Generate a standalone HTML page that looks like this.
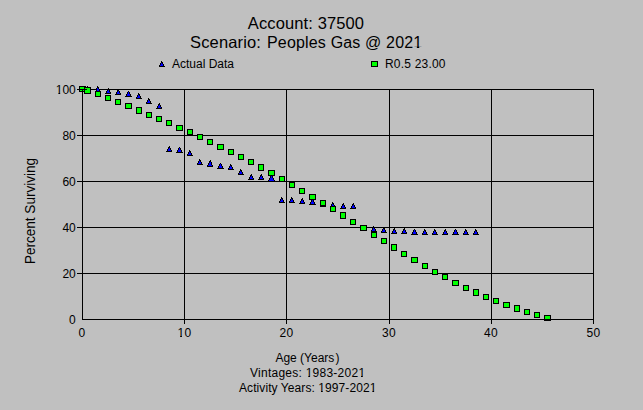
<!DOCTYPE html>
<html><head><meta charset="utf-8"><style>
html,body{margin:0;padding:0;background:#c0c0c0;}
body{width:643px;height:410px;overflow:hidden;position:relative;font-family:"Liberation Sans",Arial,sans-serif;color:#000;}
svg{position:absolute;left:0;top:0;}
.t{position:absolute;white-space:nowrap;line-height:1;}
.c{position:absolute;white-space:nowrap;line-height:1;transform:translateX(-50%);}
.r{position:absolute;white-space:nowrap;line-height:1;transform:translateX(-100%);}
.n{letter-spacing:0.33px;}
.one{display:inline-block;clip-path:polygon(0 0,100% 0,100% 0.75em,0.37em 0.75em,0.37em 100%,0.22em 100%,0.22em 0.75em,0 0.75em);}
</style></head><body>
<svg width="643" height="410" viewBox="0 0 643 410" shape-rendering="crispEdges"><path fill="#000" d="M184 89h1v235h-1z M286 89h1v235h-1z M389 89h1v235h-1z M491 89h1v235h-1z M77 135h516v1h-516z M77 181h516v1h-516z M77 227h516v1h-516z M77 273h516v1h-516z M82 89h512v1h-512z M593 89h1v235h-1z"/><path fill="#000" d="M87 86h1v1h-1zM87 87h1v1h-1zM88 87h1v1h-1zM86 88h1v1h-1zM88 88h1v1h-1zM86 89h1v1h-1zM89 89h1v1h-1zM86 90h1v1h-1zM89 90h1v1h-1zM85 91h1v1h-1zM90 91h1v1h-1zM85 92h6v1h-6zM97 86h1v1h-1zM97 87h1v1h-1zM98 87h1v1h-1zM96 88h1v1h-1zM98 88h1v1h-1zM96 89h1v1h-1zM99 89h1v1h-1zM96 90h1v1h-1zM99 90h1v1h-1zM95 91h1v1h-1zM100 91h1v1h-1zM95 92h6v1h-6zM108 88h1v1h-1zM107 89h1v1h-1zM108 89h1v1h-1zM107 90h1v1h-1zM109 90h1v1h-1zM106 91h1v1h-1zM109 91h1v1h-1zM106 92h1v1h-1zM110 92h1v1h-1zM105 93h6v1h-6zM118 89h1v1h-1zM117 90h1v1h-1zM118 90h1v1h-1zM117 91h1v1h-1zM119 91h1v1h-1zM116 92h1v1h-1zM119 92h1v1h-1zM116 93h1v1h-1zM120 93h1v1h-1zM115 94h6v1h-6zM128 91h1v1h-1zM127 92h1v1h-1zM129 92h1v1h-1zM127 93h1v1h-1zM129 93h1v1h-1zM126 94h1v1h-1zM130 94h1v1h-1zM126 95h1v1h-1zM130 95h1v1h-1zM125 96h7v1h-7zM138 93h1v1h-1zM138 94h1v1h-1zM139 94h1v1h-1zM137 95h1v1h-1zM139 95h1v1h-1zM137 96h1v1h-1zM140 96h1v1h-1zM136 97h1v1h-1zM140 97h1v1h-1zM136 98h6v1h-6zM148 98h1v1h-1zM148 99h1v1h-1zM149 99h1v1h-1zM147 100h1v1h-1zM149 100h1v1h-1zM147 101h1v1h-1zM150 101h1v1h-1zM146 102h1v1h-1zM150 102h1v1h-1zM146 103h6v1h-6zM159 103h1v1h-1zM158 104h1v1h-1zM159 104h1v1h-1zM158 105h1v1h-1zM160 105h1v1h-1zM157 106h1v1h-1zM160 106h1v1h-1zM157 107h1v1h-1zM161 107h1v1h-1zM156 108h6v1h-6zM169 146h1v1h-1zM168 147h1v1h-1zM169 147h1v1h-1zM168 148h1v1h-1zM170 148h1v1h-1zM167 149h1v1h-1zM170 149h1v1h-1zM167 150h1v1h-1zM171 150h1v1h-1zM166 151h6v1h-6zM179 147h1v1h-1zM178 148h1v1h-1zM180 148h1v1h-1zM178 149h1v1h-1zM180 149h1v1h-1zM177 150h1v1h-1zM181 150h1v1h-1zM177 151h1v1h-1zM181 151h1v1h-1zM176 152h7v1h-7zM189 150h1v1h-1zM189 151h1v1h-1zM190 151h1v1h-1zM188 152h1v1h-1zM190 152h1v1h-1zM188 153h1v1h-1zM191 153h1v1h-1zM187 154h1v1h-1zM191 154h1v1h-1zM187 155h6v1h-6zM199 159h1v1h-1zM199 160h1v1h-1zM200 160h1v1h-1zM198 161h1v1h-1zM200 161h1v1h-1zM198 162h1v1h-1zM201 162h1v1h-1zM197 163h1v1h-1zM201 163h1v1h-1zM197 164h6v1h-6zM210 160h1v1h-1zM209 161h1v1h-1zM210 161h1v1h-1zM209 162h1v1h-1zM211 162h1v1h-1zM208 163h1v1h-1zM211 163h1v1h-1zM208 164h1v1h-1zM211 164h1v1h-1zM207 165h1v1h-1zM212 165h1v1h-1zM207 166h6v1h-6zM220 163h1v1h-1zM219 164h1v1h-1zM221 164h1v1h-1zM219 165h1v1h-1zM221 165h1v1h-1zM218 166h1v1h-1zM222 166h1v1h-1zM218 167h1v1h-1zM222 167h1v1h-1zM217 168h7v1h-7zM230 164h1v1h-1zM230 165h1v1h-1zM231 165h1v1h-1zM229 166h1v1h-1zM231 166h1v1h-1zM229 167h1v1h-1zM232 167h1v1h-1zM228 168h1v1h-1zM232 168h1v1h-1zM228 169h6v1h-6zM240 169h1v1h-1zM240 170h1v1h-1zM241 170h1v1h-1zM239 171h1v1h-1zM241 171h1v1h-1zM239 172h1v1h-1zM242 172h1v1h-1zM238 173h1v1h-1zM242 173h1v1h-1zM238 174h6v1h-6zM251 174h1v1h-1zM250 175h1v1h-1zM251 175h1v1h-1zM250 176h1v1h-1zM252 176h1v1h-1zM249 177h1v1h-1zM252 177h1v1h-1zM249 178h1v1h-1zM253 178h1v1h-1zM248 179h6v1h-6zM261 174h1v1h-1zM260 175h1v1h-1zM261 175h1v1h-1zM260 176h1v1h-1zM262 176h1v1h-1zM259 177h1v1h-1zM262 177h1v1h-1zM259 178h1v1h-1zM263 178h1v1h-1zM258 179h6v1h-6zM271 175h1v1h-1zM270 176h1v1h-1zM272 176h1v1h-1zM270 177h1v1h-1zM272 177h1v1h-1zM269 178h1v1h-1zM273 178h1v1h-1zM269 179h1v1h-1zM273 179h1v1h-1zM268 180h1v1h-1zM274 180h1v1h-1zM268 181h7v1h-7zM281 197h1v1h-1zM281 198h1v1h-1zM282 198h1v1h-1zM280 199h1v1h-1zM282 199h1v1h-1zM280 200h1v1h-1zM283 200h1v1h-1zM279 201h1v1h-1zM283 201h1v1h-1zM279 202h6v1h-6zM291 197h1v1h-1zM291 198h1v1h-1zM292 198h1v1h-1zM290 199h1v1h-1zM292 199h1v1h-1zM290 200h1v1h-1zM293 200h1v1h-1zM289 201h1v1h-1zM293 201h1v1h-1zM289 202h6v1h-6zM302 198h1v1h-1zM301 199h1v1h-1zM302 199h1v1h-1zM301 200h1v1h-1zM303 200h1v1h-1zM300 201h1v1h-1zM303 201h1v1h-1zM300 202h1v1h-1zM304 202h1v1h-1zM299 203h6v1h-6zM312 199h1v1h-1zM311 200h1v1h-1zM313 200h1v1h-1zM311 201h1v1h-1zM313 201h1v1h-1zM310 202h1v1h-1zM314 202h1v1h-1zM310 203h1v1h-1zM314 203h1v1h-1zM309 204h7v1h-7zM322 201h1v1h-1zM322 202h1v1h-1zM323 202h1v1h-1zM321 203h1v1h-1zM323 203h1v1h-1zM321 204h1v1h-1zM324 204h1v1h-1zM320 205h1v1h-1zM324 205h1v1h-1zM320 206h6v1h-6zM332 202h1v1h-1zM332 203h1v1h-1zM333 203h1v1h-1zM331 204h1v1h-1zM333 204h1v1h-1zM331 205h1v1h-1zM334 205h1v1h-1zM330 206h1v1h-1zM334 206h1v1h-1zM330 207h6v1h-6zM343 203h1v1h-1zM342 204h1v1h-1zM343 204h1v1h-1zM342 205h1v1h-1zM344 205h1v1h-1zM341 206h1v1h-1zM344 206h1v1h-1zM341 207h1v1h-1zM345 207h1v1h-1zM340 208h6v1h-6zM353 203h1v1h-1zM352 204h1v1h-1zM353 204h1v1h-1zM352 205h1v1h-1zM354 205h1v1h-1zM351 206h1v1h-1zM354 206h1v1h-1zM351 207h1v1h-1zM355 207h1v1h-1zM350 208h6v1h-6zM363 225h1v1h-1zM362 226h1v1h-1zM364 226h1v1h-1zM362 227h1v1h-1zM364 227h1v1h-1zM361 228h1v1h-1zM365 228h1v1h-1zM361 229h1v1h-1zM365 229h1v1h-1zM360 230h7v1h-7zM373 226h1v1h-1zM373 227h1v1h-1zM374 227h1v1h-1zM372 228h1v1h-1zM374 228h1v1h-1zM372 229h1v1h-1zM375 229h1v1h-1zM371 230h1v1h-1zM375 230h1v1h-1zM371 231h6v1h-6zM383 227h1v1h-1zM383 228h1v1h-1zM384 228h1v1h-1zM382 229h1v1h-1zM384 229h1v1h-1zM382 230h1v1h-1zM385 230h1v1h-1zM381 231h1v1h-1zM385 231h1v1h-1zM381 232h6v1h-6zM394 228h1v1h-1zM393 229h1v1h-1zM394 229h1v1h-1zM393 230h1v1h-1zM395 230h1v1h-1zM392 231h1v1h-1zM395 231h1v1h-1zM392 232h1v1h-1zM396 232h1v1h-1zM391 233h6v1h-6zM404 228h1v1h-1zM403 229h1v1h-1zM404 229h1v1h-1zM403 230h1v1h-1zM405 230h1v1h-1zM402 231h1v1h-1zM405 231h1v1h-1zM402 232h1v1h-1zM406 232h1v1h-1zM401 233h6v1h-6zM414 229h1v1h-1zM413 230h1v1h-1zM415 230h1v1h-1zM413 231h1v1h-1zM415 231h1v1h-1zM412 232h1v1h-1zM416 232h1v1h-1zM412 233h1v1h-1zM416 233h1v1h-1zM411 234h7v1h-7zM424 229h1v1h-1zM424 230h1v1h-1zM425 230h1v1h-1zM423 231h1v1h-1zM425 231h1v1h-1zM423 232h1v1h-1zM426 232h1v1h-1zM422 233h1v1h-1zM426 233h1v1h-1zM422 234h6v1h-6zM434 229h1v1h-1zM434 230h1v1h-1zM435 230h1v1h-1zM433 231h1v1h-1zM435 231h1v1h-1zM433 232h1v1h-1zM436 232h1v1h-1zM432 233h1v1h-1zM436 233h1v1h-1zM432 234h6v1h-6zM445 229h1v1h-1zM444 230h1v1h-1zM445 230h1v1h-1zM444 231h1v1h-1zM446 231h1v1h-1zM443 232h1v1h-1zM446 232h1v1h-1zM443 233h1v1h-1zM447 233h1v1h-1zM442 234h6v1h-6zM455 229h1v1h-1zM454 230h1v1h-1zM456 230h1v1h-1zM454 231h1v1h-1zM456 231h1v1h-1zM453 232h1v1h-1zM457 232h1v1h-1zM453 233h1v1h-1zM457 233h1v1h-1zM452 234h7v1h-7zM465 229h1v1h-1zM465 230h1v1h-1zM466 230h1v1h-1zM464 231h1v1h-1zM466 231h1v1h-1zM464 232h1v1h-1zM467 232h1v1h-1zM463 233h1v1h-1zM467 233h1v1h-1zM463 234h6v1h-6zM475 229h1v1h-1zM475 230h1v1h-1zM476 230h1v1h-1zM474 231h1v1h-1zM476 231h1v1h-1zM474 232h1v1h-1zM477 232h1v1h-1zM473 233h1v1h-1zM477 233h1v1h-1zM473 234h6v1h-6z"/><path fill="#0000ff" d="M87 88h1v1h-1zM87 89h2v1h-2zM87 90h2v1h-2zM86 91h4v1h-4zM97 88h1v1h-1zM97 89h2v1h-2zM97 90h2v1h-2zM96 91h4v1h-4zM108 90h1v1h-1zM107 91h2v1h-2zM107 92h3v1h-3zM118 91h1v1h-1zM117 92h2v1h-2zM117 93h3v1h-3zM128 92h1v1h-1zM128 93h1v1h-1zM127 94h3v1h-3zM127 95h3v1h-3zM138 95h1v1h-1zM138 96h2v1h-2zM137 97h3v1h-3zM148 100h1v1h-1zM148 101h2v1h-2zM147 102h3v1h-3zM159 105h1v1h-1zM158 106h2v1h-2zM158 107h3v1h-3zM169 148h1v1h-1zM168 149h2v1h-2zM168 150h3v1h-3zM179 148h1v1h-1zM179 149h1v1h-1zM178 150h3v1h-3zM178 151h3v1h-3zM189 152h1v1h-1zM189 153h2v1h-2zM188 154h3v1h-3zM199 161h1v1h-1zM199 162h2v1h-2zM198 163h3v1h-3zM210 162h1v1h-1zM209 163h2v1h-2zM209 164h2v1h-2zM208 165h4v1h-4zM220 164h1v1h-1zM220 165h1v1h-1zM219 166h3v1h-3zM219 167h3v1h-3zM230 166h1v1h-1zM230 167h2v1h-2zM229 168h3v1h-3zM240 171h1v1h-1zM240 172h2v1h-2zM239 173h3v1h-3zM251 176h1v1h-1zM250 177h2v1h-2zM250 178h3v1h-3zM261 176h1v1h-1zM260 177h2v1h-2zM260 178h3v1h-3zM271 176h1v1h-1zM271 177h1v1h-1zM270 178h3v1h-3zM270 179h3v1h-3zM269 180h5v1h-5zM281 199h1v1h-1zM281 200h2v1h-2zM280 201h3v1h-3zM291 199h1v1h-1zM291 200h2v1h-2zM290 201h3v1h-3zM302 200h1v1h-1zM301 201h2v1h-2zM301 202h3v1h-3zM312 200h1v1h-1zM312 201h1v1h-1zM311 202h3v1h-3zM311 203h3v1h-3zM322 203h1v1h-1zM322 204h2v1h-2zM321 205h3v1h-3zM332 204h1v1h-1zM332 205h2v1h-2zM331 206h3v1h-3zM343 205h1v1h-1zM342 206h2v1h-2zM342 207h3v1h-3zM353 205h1v1h-1zM352 206h2v1h-2zM352 207h3v1h-3zM363 226h1v1h-1zM363 227h1v1h-1zM362 228h3v1h-3zM362 229h3v1h-3zM373 228h1v1h-1zM373 229h2v1h-2zM372 230h3v1h-3zM383 229h1v1h-1zM383 230h2v1h-2zM382 231h3v1h-3zM394 230h1v1h-1zM393 231h2v1h-2zM393 232h3v1h-3zM404 230h1v1h-1zM403 231h2v1h-2zM403 232h3v1h-3zM414 230h1v1h-1zM414 231h1v1h-1zM413 232h3v1h-3zM413 233h3v1h-3zM424 231h1v1h-1zM424 232h2v1h-2zM423 233h3v1h-3zM434 231h1v1h-1zM434 232h2v1h-2zM433 233h3v1h-3zM445 231h1v1h-1zM444 232h2v1h-2zM444 233h3v1h-3zM455 230h1v1h-1zM455 231h1v1h-1zM454 232h3v1h-3zM454 233h3v1h-3zM465 231h1v1h-1zM465 232h2v1h-2zM464 233h3v1h-3zM475 231h1v1h-1zM475 232h2v1h-2zM474 233h3v1h-3z"/><path fill="#000" d="M79 86h7v6h-7z"/><path fill="#00ff00" d="M80 87h5v4h-5z"/><path fill="#000" d="M84 87h7v7h-7z"/><path fill="#00ff00" d="M85 88h5v5h-5z"/><path fill="#000" d="M95 91h6v6h-6z"/><path fill="#00ff00" d="M96 92h4v4h-4z"/><path fill="#000" d="M105 95h6v6h-6z"/><path fill="#00ff00" d="M106 96h4v4h-4z"/><path fill="#000" d="M115 99h6v6h-6z"/><path fill="#00ff00" d="M116 100h4v4h-4z"/><path fill="#000" d="M125 103h7v6h-7z"/><path fill="#00ff00" d="M126 104h5v4h-5z"/><path fill="#000" d="M136 107h6v7h-6z"/><path fill="#00ff00" d="M137 108h4v5h-4z"/><path fill="#000" d="M146 112h6v6h-6z"/><path fill="#00ff00" d="M147 113h4v4h-4z"/><path fill="#000" d="M156 116h6v6h-6z"/><path fill="#00ff00" d="M157 117h4v4h-4z"/><path fill="#000" d="M166 120h6v6h-6z"/><path fill="#00ff00" d="M167 121h4v4h-4z"/><path fill="#000" d="M176 125h7v6h-7z"/><path fill="#00ff00" d="M177 126h5v4h-5z"/><path fill="#000" d="M187 129h6v6h-6z"/><path fill="#00ff00" d="M188 130h4v4h-4z"/><path fill="#000" d="M197 134h6v6h-6z"/><path fill="#00ff00" d="M198 135h4v4h-4z"/><path fill="#000" d="M207 139h6v6h-6z"/><path fill="#00ff00" d="M208 140h4v4h-4z"/><path fill="#000" d="M217 144h7v6h-7z"/><path fill="#00ff00" d="M218 145h5v4h-5z"/><path fill="#000" d="M228 149h6v6h-6z"/><path fill="#00ff00" d="M229 150h4v4h-4z"/><path fill="#000" d="M238 154h6v6h-6z"/><path fill="#00ff00" d="M239 155h4v4h-4z"/><path fill="#000" d="M248 159h6v6h-6z"/><path fill="#00ff00" d="M249 160h4v4h-4z"/><path fill="#000" d="M258 164h6v7h-6z"/><path fill="#00ff00" d="M259 165h4v5h-4z"/><path fill="#000" d="M268 170h7v6h-7z"/><path fill="#00ff00" d="M269 171h5v4h-5z"/><path fill="#000" d="M279 176h6v6h-6z"/><path fill="#00ff00" d="M280 177h4v4h-4z"/><path fill="#000" d="M289 182h6v6h-6z"/><path fill="#00ff00" d="M290 183h4v4h-4z"/><path fill="#000" d="M299 188h6v6h-6z"/><path fill="#00ff00" d="M300 189h4v4h-4z"/><path fill="#000" d="M309 194h7v6h-7z"/><path fill="#00ff00" d="M310 195h5v4h-5z"/><path fill="#000" d="M320 200h6v6h-6z"/><path fill="#00ff00" d="M321 201h4v4h-4z"/><path fill="#000" d="M330 206h6v6h-6z"/><path fill="#00ff00" d="M331 207h4v4h-4z"/><path fill="#000" d="M340 212h6v7h-6z"/><path fill="#00ff00" d="M341 213h4v5h-4z"/><path fill="#000" d="M350 219h6v6h-6z"/><path fill="#00ff00" d="M351 220h4v4h-4z"/><path fill="#000" d="M360 225h7v6h-7z"/><path fill="#00ff00" d="M361 226h5v4h-5z"/><path fill="#000" d="M371 232h6v6h-6z"/><path fill="#00ff00" d="M372 233h4v4h-4z"/><path fill="#000" d="M381 238h6v6h-6z"/><path fill="#00ff00" d="M382 239h4v4h-4z"/><path fill="#000" d="M391 244h6v7h-6z"/><path fill="#00ff00" d="M392 245h4v5h-4z"/><path fill="#000" d="M401 251h6v6h-6z"/><path fill="#00ff00" d="M402 252h4v4h-4z"/><path fill="#000" d="M411 257h7v6h-7z"/><path fill="#00ff00" d="M412 258h5v4h-5z"/><path fill="#000" d="M422 263h6v6h-6z"/><path fill="#00ff00" d="M423 264h4v4h-4z"/><path fill="#000" d="M432 269h6v6h-6z"/><path fill="#00ff00" d="M433 270h4v4h-4z"/><path fill="#000" d="M442 274h6v6h-6z"/><path fill="#00ff00" d="M443 275h4v4h-4z"/><path fill="#000" d="M452 280h7v6h-7z"/><path fill="#00ff00" d="M453 281h5v4h-5z"/><path fill="#000" d="M463 285h6v6h-6z"/><path fill="#00ff00" d="M464 286h4v4h-4z"/><path fill="#000" d="M473 289h6v7h-6z"/><path fill="#00ff00" d="M474 290h4v5h-4z"/><path fill="#000" d="M483 294h6v6h-6z"/><path fill="#00ff00" d="M484 295h4v4h-4z"/><path fill="#000" d="M493 298h6v6h-6z"/><path fill="#00ff00" d="M494 299h4v4h-4z"/><path fill="#000" d="M503 302h7v6h-7z"/><path fill="#00ff00" d="M504 303h5v4h-5z"/><path fill="#000" d="M514 305h6v7h-6z"/><path fill="#00ff00" d="M515 306h4v5h-4z"/><path fill="#000" d="M524 309h6v6h-6z"/><path fill="#00ff00" d="M525 310h4v4h-4z"/><path fill="#000" d="M534 312h6v6h-6z"/><path fill="#00ff00" d="M535 313h4v4h-4z"/><path fill="#000" d="M544 315h7v6h-7z"/><path fill="#00ff00" d="M545 316h5v4h-5z"/><path fill="#000" d="M82 319h512v1h-512z M82 89h1v231h-1z M77 89h10v1h-10z M77 135h10v1h-10z M77 181h10v1h-10z M77 227h10v1h-10z M77 273h10v1h-10z"/><path fill="#000" d="M161 61h1v1h-1zM161 62h2v1h-2zM160 63h1v1h-1zM162 63h1v1h-1zM160 64h1v1h-1zM163 64h1v1h-1zM159 65h1v1h-1zM163 65h1v1h-1zM159 66h6v1h-6z"/><path fill="#0000ff" d="M161 63h1v1h-1zM161 64h2v1h-2zM160 65h3v1h-3z"/><path fill="#000" d="M371 61h7v6h-7z"/><path fill="#00ff00" d="M372 62h5v4h-5z"/></svg>
<div class="c" style="left:306px;top:14.5px;font-size:16.5px;letter-spacing:0.12px">Account: 37500</div>
<div class="t" style="left:190px;top:33.5px;font-size:16.5px;letter-spacing:0.15px">Scenario:</div><div class="t" style="left:267px;top:34.8px;font-size:16px;letter-spacing:0.17px">Peoples Gas @ 202<span class="one">1</span></div>
<div class="t" style="left:172px;top:58px;font-size:12px">Actual Data</div>
<div class="t" style="left:385px;top:58px;font-size:12px;letter-spacing:0.2px">R0.5 23.00</div>
<div class="r" style="left:75.8px;top:84px;font-size:12px"><span class="one">1</span>00</div>
<div class="r" style="left:75.8px;top:130px;font-size:12px">80</div>
<div class="r" style="left:75.8px;top:176px;font-size:12px">60</div>
<div class="r" style="left:75.8px;top:222px;font-size:12px">40</div>
<div class="r" style="left:75.8px;top:268px;font-size:12px">20</div>
<div class="r" style="left:75.8px;top:314px;font-size:12px">0</div>
<div class="c n" style="left:82px;top:327px;font-size:12px">0</div>
<div class="c n" style="left:184.5px;top:327px;font-size:12px"><span class="one">1</span>0</div>
<div class="c n" style="left:286.5px;top:327px;font-size:12px">20</div>
<div class="c n" style="left:389px;top:327px;font-size:12px">30</div>
<div class="c n" style="left:491px;top:327px;font-size:12px">40</div>
<div class="c n" style="left:593.5px;top:327px;font-size:12px">50</div>
<div class="c" style="left:307.5px;top:352px;font-size:12px">Age (Years<span style="margin-left:1.3px">)</span></div>
<div class="t" style="left:250px;top:367px;font-size:12px;letter-spacing:0.25px">Vintages: <span class="one">1</span>983-202<span class="one">1</span></div>
<div class="t" style="left:239px;top:382px;font-size:12px;letter-spacing:0.08px">Activity Years: <span class="one">1</span>997-202<span class="one">1</span></div>
<div class="t" style="left:30px;top:210.5px;font-size:14px;transform:translate(-50%,-50%) rotate(-90deg) scaleX(0.967);">Percent Surviving</div>
</body></html>
